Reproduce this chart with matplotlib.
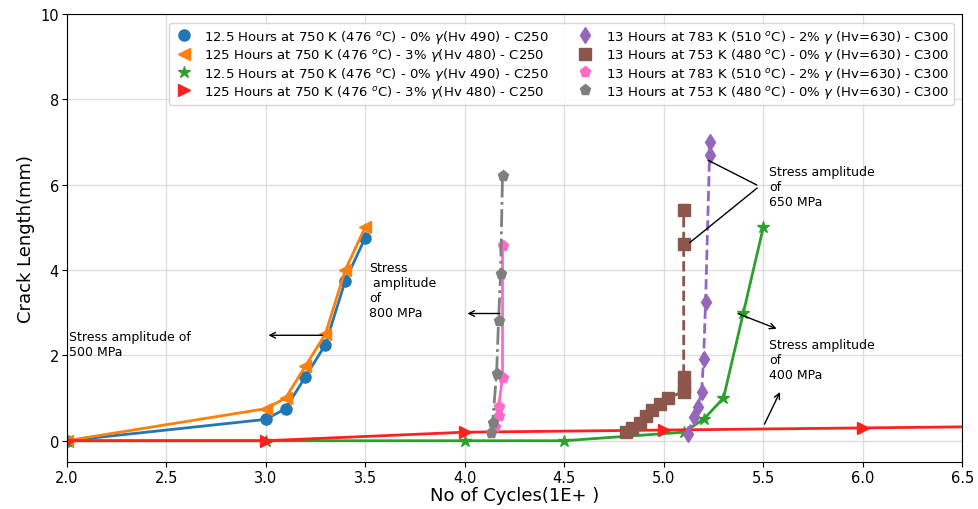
import numpy as np
import matplotlib.pyplot as plt

# data
blue_x = [2.0, 3.0, 3.1, 3.2, 3.3, 3.4, 3.5]
blue_y = [0.0, 0.5, 0.75, 1.5, 2.25, 3.75, 4.75]
orange_x = [2.0, 3.0, 3.1, 3.2, 3.3, 3.4, 3.5]
orange_y = [0.0, 0.75, 1.0, 1.75, 2.5, 4.0, 5.0]
green_x = [2.0, 3.0, 4.0, 4.5, 5.1, 5.2, 5.3, 5.4, 5.5]
green_y = [0.0, 0.0, 0.0, 0.0, 0.2, 0.5, 1.0, 3.0, 5.0]
red_x = [2.0, 3.0, 4.0, 5.0, 6.0, 6.6]
red_y = [0.0, 0.0, 0.2, 0.25, 0.3, 0.33]
purple_x = [5.12, 5.15, 5.17, 5.19, 5.20, 5.21, 5.23, 5.23]
purple_y = [0.15, 0.56, 0.8, 1.15, 1.92, 3.24, 6.7, 7.0]
brown_x = [4.81, 4.84, 4.88, 4.91, 4.94, 4.98, 5.02, 5.10, 5.10, 5.10, 5.10, 5.10]
brown_y = [0.21, 0.3, 0.42, 0.57, 0.73, 0.85, 1.0, 1.15, 1.27, 1.5, 4.6, 5.4]
pink_x = [4.15, 4.17, 4.17, 4.19, 4.19]
pink_y = [0.33, 0.57, 0.78, 1.48, 4.55]
gray_x = [4.13, 4.14, 4.16, 4.17, 4.18, 4.19]
gray_y = [0.19, 0.42, 1.57, 2.8, 3.9, 6.2]

labels = [
    "12.5 Hours at 750 K (476 $^o$C) - 0% $\\gamma$(Hv 490) - C250",
    "125 Hours at 750 K (476 $^o$C) - 3% $\\gamma$(Hv 480) - C250",
    "12.5 Hours at 750 K (476 $^o$C) - 0% $\\gamma$(Hv 490) - C250",
    "125 Hours at 750 K (476 $^o$C) - 3% $\\gamma$(Hv 480) - C250",
    "13 Hours at 783 K (510 $^o$C) - 2% $\\gamma$ (Hv=630) - C300",
    "13 Hours at 753 K (480 $^o$C) - 0% $\\gamma$ (Hv=630) - C300",
    "13 Hours at 783 K (510 $^o$C) - 2% $\\gamma$ (Hv=630) - C300",
    "13 Hours at 753 K (480 $^o$C) - 0% $\\gamma$ (Hv=630) - C300",
]

fig = plt.figure(figsize=(9.79, 5.10), dpi=100)
ax = fig.add_axes([0.068, 0.092, 0.915, 0.879])

ax.plot(blue_x, blue_y, 'o-', color='#1f77b4', lw=2, ms=8, label=labels[0])
ax.plot(orange_x, orange_y, '<-', color='#ff7f0e', lw=2, ms=8, label=labels[1])
ax.plot(green_x, green_y, '*-', color='#2ca02c', lw=2, ms=9, label=labels[2])
ax.plot(red_x, red_y, '>-', color='#ff2020', lw=2, ms=8, label=labels[3])
ax.plot(purple_x, purple_y, 'd--', color='#9467bd', lw=2, ms=8, label=labels[4])
ax.plot(brown_x, brown_y, 's--', color='#8c564b', lw=2, ms=8, label=labels[5])
ax.plot(pink_x, pink_y, 'p-', color='#ff69c8', lw=2, ms=8, label=labels[6])
ax.plot(gray_x, gray_y, 'p-.', color='#7f7f7f', lw=2, ms=8, label=labels[7])

ax.set_xlim(2.0, 6.5)
ax.set_ylim(-0.5, 10)
ax.set_xticks(np.arange(2.0, 6.51, 0.5))
ax.set_yticks([0, 2, 4, 6, 8, 10])
ax.tick_params(labelsize=10.5, pad=2)
ax.grid(True, color='#dddddd', lw=1)
ax.set_xlabel('No of Cycles(1E+ )', fontsize=13, labelpad=1)
ax.set_ylabel('Crack Length(mm)', fontsize=13, labelpad=4)

# annotations
tfs = 9
ax.text(2.01, 2.6, 'Stress amplitude of\n500 MPa', fontsize=tfs, va='top')
ax.annotate('', xy=(3.0, 2.47), xytext=(3.3, 2.47),
            arrowprops=dict(arrowstyle='->', color='black', lw=1))
ax.text(3.52, 4.2, 'Stress\n amplitude\nof\n800 MPa', fontsize=tfs, va='top')
ax.annotate('', xy=(4.0, 2.98), xytext=(4.19, 2.98),
            arrowprops=dict(arrowstyle='->', color='black', lw=1))
ax.text(5.53, 6.45, 'Stress amplitude\nof\n650 MPa', fontsize=tfs, va='top')
ax.annotate('', xy=(5.21, 6.6), xytext=(5.48, 5.96),
            arrowprops=dict(arrowstyle='-', color='black', lw=1))
ax.annotate('', xy=(5.12, 4.6), xytext=(5.48, 5.96),
            arrowprops=dict(arrowstyle='-', color='black', lw=1))
ax.text(5.53, 2.4, 'Stress amplitude\nof\n400 MPa', fontsize=tfs, va='top')
ax.annotate('', xy=(5.58, 2.6), xytext=(5.36, 3.0),
            arrowprops=dict(arrowstyle='->', color='black', lw=1))
ax.annotate('', xy=(5.59, 1.2), xytext=(5.5, 0.33),
            arrowprops=dict(arrowstyle='->', color='black', lw=1))

leg = ax.legend(loc='upper right', ncol=2, fontsize=9.5, bbox_to_anchor=(0.998, 0.995),
                handlelength=1.5, columnspacing=2.0, labelspacing=0.1)
for h in leg.legend_handles:
    h.set_linestyle('none')

fig.savefig('out.png', dpi=100)
